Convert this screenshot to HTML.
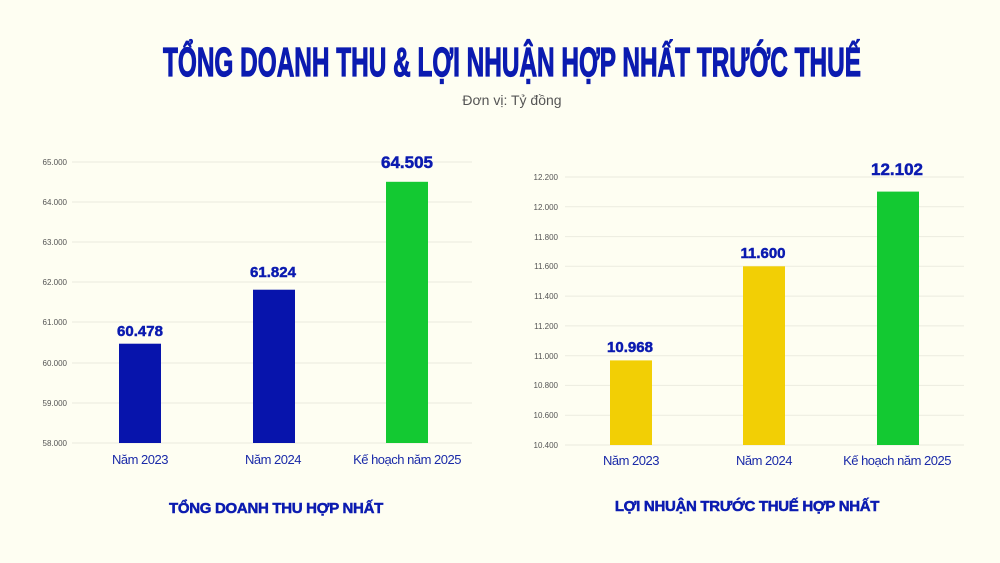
<!DOCTYPE html><html><head><meta charset="utf-8"><style>
body{margin:0;background:#fefef2;}
svg{display:block}
.t{font-family:"Liberation Sans Narrow","Liberation Sans",sans-serif;font-weight:bold;fill:#0b1bb0;stroke:#0b1bb0;stroke-width:1.2}
.tick{font-family:"Liberation Sans",sans-serif;font-size:8px;fill:#555}
.cat{font-family:"Liberation Sans",sans-serif;font-size:13px;fill:#1a2aa8;text-anchor:middle;letter-spacing:-0.5px}
.val{font-family:"Liberation Sans",sans-serif;font-weight:bold;fill:#0b1bb0;text-anchor:middle;stroke:#0b1bb0;stroke-width:0.5}
.g{stroke:#ebebdf;stroke-width:1}
</style></head><body>
<svg width="1000" height="563" viewBox="0 0 1000 563">
<rect width="1000" height="563" fill="#fefef2"/>
<text class="t" x="512" y="76" font-size="41" text-anchor="middle" textLength="698" lengthAdjust="spacingAndGlyphs">TỔNG DOANH THU &amp; LỢI NHUẬN HỢP NHẤT TRƯỚC THUẾ</text>
<text x="512" y="105" font-family="Liberation Sans,sans-serif" font-size="14" fill="#555" text-anchor="middle">Đơn vị: Tỷ đồng</text>
<!-- left -->
<g class="g">
<line x1="72" x2="472" y1="162" y2="162"/><line x1="72" x2="472" y1="202" y2="202"/><line x1="72" x2="472" y1="242" y2="242"/><line x1="72" x2="472" y1="282" y2="282"/><line x1="72" x2="472" y1="322" y2="322"/><line x1="72" x2="472" y1="363" y2="363"/><line x1="72" x2="472" y1="403" y2="403"/><line x1="72" x2="472" y1="443" y2="443"/>
</g>
<g class="tick" text-anchor="end">
<text x="67" y="165">65.000</text><text x="67" y="205">64.000</text><text x="67" y="245">63.000</text><text x="67" y="285">62.000</text><text x="67" y="325">61.000</text><text x="67" y="366">60.000</text><text x="67" y="406">59.000</text><text x="67" y="446">58.000</text>
</g>
<rect x="119" y="343.7" width="42" height="99.3" fill="#0714ac"/>
<rect x="253" y="289.7" width="42" height="153.3" fill="#0714ac"/>
<rect x="386" y="181.8" width="42" height="261.2" fill="#13c932"/>
<text class="val" x="140" y="336" font-size="15">60.478</text>
<text class="val" x="273" y="277" font-size="15">61.824</text>
<text class="val" x="407" y="168" font-size="17">64.505</text>
<text class="cat" x="140" y="464">Năm 2023</text>
<text class="cat" x="273" y="464">Năm 2024</text>
<text class="cat" x="407" y="464">Kế hoạch năm 2025</text>
<text class="val" x="276" y="513" font-size="15" letter-spacing="-0.3">TỔNG DOANH THU HỢP NHẤT</text>
<!-- right -->
<g class="g">
<line x1="565" x2="964" y1="177" y2="177"/><line x1="565" x2="964" y1="206.8" y2="206.8"/><line x1="565" x2="964" y1="236.6" y2="236.6"/><line x1="565" x2="964" y1="266.3" y2="266.3"/><line x1="565" x2="964" y1="296.1" y2="296.1"/><line x1="565" x2="964" y1="325.9" y2="325.9"/><line x1="565" x2="964" y1="355.7" y2="355.7"/><line x1="565" x2="964" y1="385.4" y2="385.4"/><line x1="565" x2="964" y1="415.2" y2="415.2"/><line x1="565" x2="964" y1="445" y2="445"/>
</g>
<g class="tick" text-anchor="end">
<text x="558" y="180">12.200</text><text x="558" y="210">12.000</text><text x="558" y="240">11.800</text><text x="558" y="269">11.600</text><text x="558" y="299">11.400</text><text x="558" y="329">11.200</text><text x="558" y="359">11.000</text><text x="558" y="388">10.800</text><text x="558" y="418">10.600</text><text x="558" y="448">10.400</text>
</g>
<rect x="610" y="360.4" width="42" height="84.6" fill="#f2cf05"/>
<rect x="743" y="266.3" width="42" height="178.7" fill="#f2cf05"/>
<rect x="877" y="191.6" width="42" height="253.4" fill="#13c932"/>
<text class="val" x="630" y="352" font-size="15">10.968</text>
<text class="val" x="763" y="258" font-size="15">11.600</text>
<text class="val" x="897" y="175" font-size="17">12.102</text>
<text class="cat" x="631" y="465">Năm 2023</text>
<text class="cat" x="764" y="465">Năm 2024</text>
<text class="cat" x="897" y="465">Kế hoạch năm 2025</text>
<text class="val" x="747" y="511" font-size="15" letter-spacing="-0.3">LỢI NHUẬN TRƯỚC THUẾ HỢP NHẤT</text>
</svg></body></html>
